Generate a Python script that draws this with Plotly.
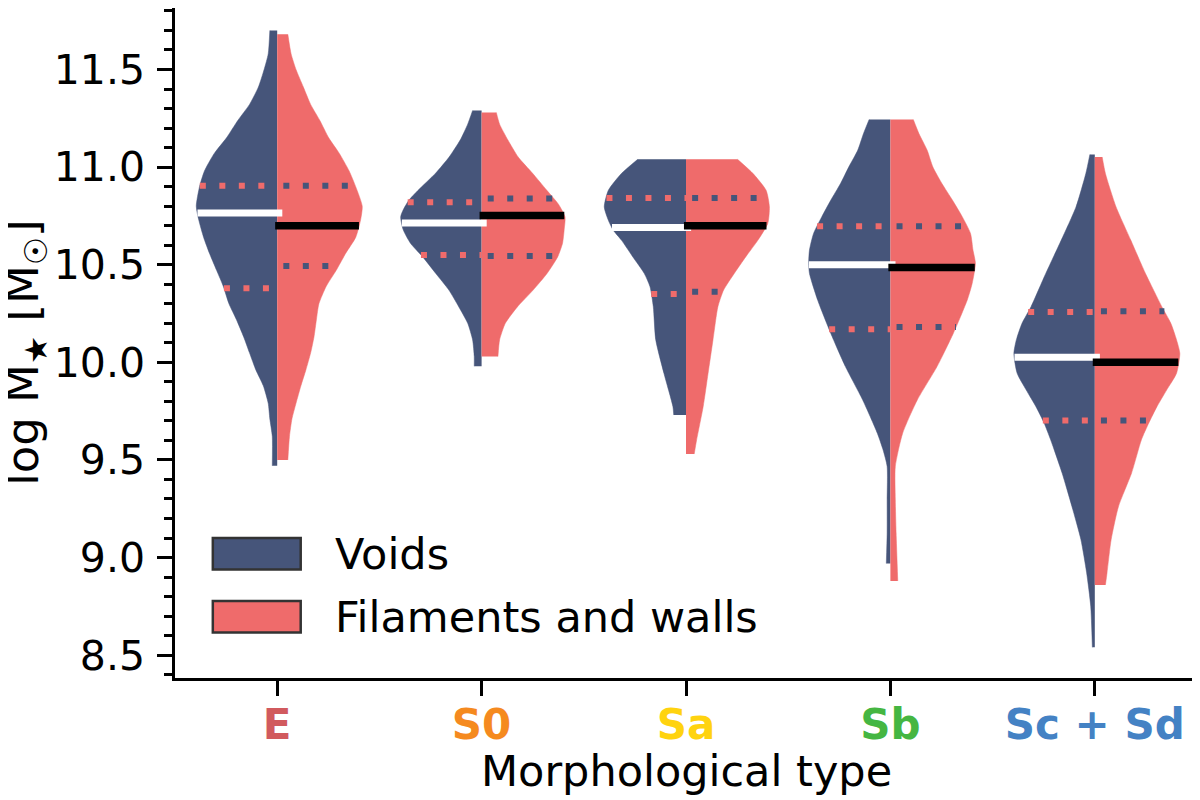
import numpy as np
import plotly.graph_objects as go

# morphological types, in x order
types = ["E", "S0", "Sa", "Sb", "Sc + Sd"]
type_colors = ["#D15A5E", "#F58A1F", "#FFD30F", "#45B642", "#4482C4"]

# violin outlines: log M* levels and relative density width
E_voids_y = [11.70, 11.58, 11.50, 11.41, 11.32, 11.24, 11.15, 11.07, 10.98, 10.90, 10.80, 10.73, 10.64,
             10.56, 10.47, 10.39, 10.30, 10.22, 10.13, 10.05, 9.96, 9.88, 9.79, 9.71, 9.62, 9.47]
E_voids_w = [0.09, 0.11, 0.16, 0.23, 0.34, 0.48, 0.62, 0.77, 0.89, 0.95, 0.99, 0.96, 0.90,
             0.83, 0.74, 0.66, 0.59, 0.50, 0.41, 0.34, 0.26, 0.17, 0.11, 0.09, 0.06, 0.06]
E_fil_y = [11.68, 11.58, 11.50, 11.41, 11.32, 11.24, 11.15, 11.07, 10.98, 10.90, 10.80, 10.73, 10.64,
           10.56, 10.47, 10.39, 10.30, 10.22, 10.13, 10.05, 9.96, 9.88, 9.79, 9.71, 9.62, 9.50]
E_fil_w = [0.13, 0.17, 0.23, 0.32, 0.41, 0.52, 0.63, 0.76, 0.88, 0.96, 1.04, 1.02, 0.96,
           0.84, 0.72, 0.60, 0.51, 0.48, 0.45, 0.41, 0.35, 0.29, 0.23, 0.18, 0.15, 0.13]

S0_voids_y = [11.29, 11.22, 11.14, 11.05, 10.97, 10.88, 10.83, 10.78, 10.745, 10.68, 10.61, 10.54,
              10.455, 10.37, 10.285, 10.20, 10.115, 10.03, 9.98]
S0_voids_w = [0.11, 0.17, 0.26, 0.40, 0.56, 0.78, 0.89, 0.96, 0.99, 0.96, 0.87, 0.72,
              0.56, 0.40, 0.28, 0.17, 0.11, 0.09, 0.09]
S0_fil_y = [11.28, 11.22, 11.14, 11.05, 10.97, 10.88, 10.81, 10.745, 10.68, 10.61, 10.54, 10.455,
            10.37, 10.285, 10.20, 10.115, 10.03]
S0_fil_w = [0.18, 0.22, 0.32, 0.45, 0.62, 0.80, 0.94, 1.02, 1.01, 0.99, 0.93, 0.80,
            0.63, 0.44, 0.29, 0.22, 0.20]

Sa_voids_y = [11.04, 10.967, 10.881, 10.796, 10.728, 10.677, 10.626, 10.54, 10.455, 10.387, 10.285,
              10.115, 9.944, 9.773, 9.73]
Sa_voids_w = [0.59, 0.79, 0.95, 1.00, 0.95, 0.89, 0.79, 0.65, 0.51, 0.44, 0.40,
              0.37, 0.27, 0.16, 0.15]
Sa_fil_y = [11.04, 10.967, 10.881, 10.796, 10.711, 10.626, 10.54, 10.455, 10.37, 10.285, 10.115,
            9.944, 9.773, 9.603, 9.53]
Sa_fil_w = [0.63, 0.82, 0.98, 1.02, 1.00, 0.88, 0.73, 0.59, 0.46, 0.39, 0.33,
            0.27, 0.21, 0.13, 0.10]

Sb_voids_y = [11.244, 11.171, 11.086, 11.0, 10.916, 10.83, 10.745, 10.66, 10.575, 10.507, 10.455,
              10.319, 10.149, 9.978, 9.808, 9.637, 9.552, 9.467, 9.296, 9.126, 8.97]
Sb_voids_w = [0.26, 0.33, 0.40, 0.51, 0.61, 0.73, 0.84, 0.94, 0.99, 1.00, 0.99,
              0.89, 0.73, 0.55, 0.34, 0.16, 0.09, 0.04, 0.04, 0.04, 0.05]
Sb_fil_y = [11.244, 11.171, 11.086, 11.0, 10.916, 10.83, 10.745, 10.66, 10.575, 10.507, 10.404,
            10.319, 10.149, 9.978, 9.808, 9.637, 9.467, 9.296, 9.126, 8.88]
Sb_fil_w = [0.28, 0.35, 0.45, 0.52, 0.63, 0.76, 0.88, 0.98, 1.01, 1.04, 1.00,
            0.94, 0.77, 0.57, 0.33, 0.15, 0.06, 0.06, 0.07, 0.09]

Sc_voids_y = [11.065, 10.967, 10.796, 10.626, 10.455, 10.285, 10.2, 10.115, 10.046, 9.944, 9.859,
              9.773, 9.689, 9.603, 9.433, 9.262, 9.092, 8.922, 8.751, 8.54]
Sc_voids_w = [0.06, 0.11, 0.23, 0.41, 0.60, 0.78, 0.89, 0.96, 0.99, 0.95, 0.84,
              0.72, 0.62, 0.54, 0.40, 0.28, 0.17, 0.10, 0.05, 0.03]
Sc_fil_y = [11.052, 10.967, 10.796, 10.626, 10.455, 10.285, 10.2, 10.115, 10.046, 9.944, 9.859,
            9.773, 9.689, 9.603, 9.433, 9.262, 9.092, 8.922, 8.86]
Sc_fil_w = [0.09, 0.13, 0.26, 0.44, 0.62, 0.82, 0.93, 1.00, 1.04, 1.00, 0.88,
            0.76, 0.66, 0.57, 0.45, 0.29, 0.20, 0.15, 0.13]

voids_profiles = [(E_voids_y, E_voids_w), (S0_voids_y, S0_voids_w), (Sa_voids_y, Sa_voids_w),
                  (Sb_voids_y, Sb_voids_w), (Sc_voids_y, Sc_voids_w)]
fil_profiles = [(E_fil_y, E_fil_w), (S0_fil_y, S0_fil_w), (Sa_fil_y, Sa_fil_w),
                (Sb_fil_y, Sb_fil_w), (Sc_fil_y, Sc_fil_w)]

# medians and quartiles
voids_median = [10.765, 10.714, 10.69, 10.50, 10.026]
fil_median = [10.70, 10.752, 10.70, 10.486, 10.0]
voids_q1 = [10.379, 10.55, 10.35, 10.169, 9.702]
voids_q3 = [10.905, 10.82, 10.842, 10.697, 10.258]
fil_q1 = [10.493, 10.545, 10.361, 10.181, 9.702]
fil_q3 = [10.905, 10.839, 10.842, 10.697, 10.261]

VOID_COL = "#46557A"
FIL_COL = "#EF6B6B"
HALF = 0.4
FONT = "DejaVu Sans"


def width_at(prof, y):
    ys, ws = prof
    return HALF * np.interp(y, ys[::-1], ws[::-1])


fig = go.Figure()

for i, (vp, fp) in enumerate(zip(voids_profiles, fil_profiles)):
    for prof, side, col in [(vp, -1, VOID_COL), (fp, 1, FIL_COL)]:
        ys = np.array(prof[0])
        ws = np.array(prof[1])
        # centre line, then the outer edge filled against it
        fig.add_trace(go.Scatter(x=[i, i], y=[ys[0], ys[-1]], mode="lines",
                                 line=dict(width=0, color=col), showlegend=False, hoverinfo="skip"))
        fig.add_trace(go.Scatter(x=i + side * HALF * ws, y=ys, mode="lines",
                                 line=dict(width=0.5, color=col, shape="spline", smoothing=0.6),
                                 fill="tonextx", fillcolor=col, showlegend=False, hoverinfo="skip"))

for i in range(len(types)):
    vp, fp = voids_profiles[i], fil_profiles[i]
    # quartiles, dotted in the other group's colour
    for q in [voids_q1[i], voids_q3[i]]:
        fig.add_trace(go.Scatter(x=[i - width_at(vp, q), i], y=[q, q], mode="lines",
                                 line=dict(color=FIL_COL, width=6, dash="6px,13.5px"),
                                 showlegend=False, hoverinfo="skip"))
    for q in [fil_q1[i], fil_q3[i]]:
        fig.add_trace(go.Scatter(x=[i + 0.03, i + width_at(fp, q)], y=[q, q], mode="lines",
                                 line=dict(color=VOID_COL, width=6, dash="6px,13.5px"),
                                 showlegend=False, hoverinfo="skip"))
    # medians
    m = voids_median[i]
    fig.add_trace(go.Scatter(x=[i - width_at(vp, m), i + 0.025], y=[m, m], mode="lines",
                             line=dict(color="white", width=7), showlegend=False, hoverinfo="skip"))
    m = fil_median[i]
    fig.add_trace(go.Scatter(x=[i - 0.01, i + width_at(fp, m)], y=[m, m], mode="lines",
                             line=dict(color="black", width=7.5), showlegend=False, hoverinfo="skip"))

# legend drawn by hand so the patches get their size
legend_items = [("Voids", VOID_COL, 0.209), ("Filaments and walls", FIL_COL, 0.115)]
for name, col, ytop in legend_items:
    fig.add_shape(type="rect", xref="paper", yref="paper", x0=0.037, x1=0.123, y0=ytop - 0.047, y1=ytop,
                  fillcolor=col, line=dict(color="#333333", width=2.5))
    fig.add_annotation(xref="paper", yref="paper", x=0.1546, y=ytop - 0.024, text=name, showarrow=False,
                       xanchor="left", yanchor="middle", font=dict(family=FONT, size=43, color="black"))

# axis titles
fig.add_annotation(xref="paper", yref="paper", x=0.5, y=-0.139, text="Morphological type",
                   showarrow=False, xanchor="center", yanchor="middle",
                   font=dict(family=FONT, size=43, color="black"))
fig.add_annotation(xref="paper", yref="paper", x=-0.147, y=0.485, text="log M<sub>★</sub> [M<sub>☉</sub>]",
                   textangle=-90, showarrow=False, xanchor="center", yanchor="middle",
                   font=dict(family=FONT, size=45, color="black"))

ticktext = ["<b><span style='color:%s'>%s</span></b>" % (c, t) for t, c in zip(types, type_colors)]

# the page adds an 8px body margin, so the figure is drawn 8px smaller and shifted
fig.update_layout(
    width=1192, height=792,
    margin=dict(l=167, r=3, t=0, b=122, autoexpand=False),
    plot_bgcolor="white", paper_bgcolor="white",
    font=dict(family=FONT, size=41, color="black"),
    showlegend=False,
)
fig.update_xaxes(
    range=[-0.5, 4.5], tickvals=list(range(len(types))), ticktext=ticktext, automargin=False,
    showline=True, mirror=True, linecolor="black", linewidth=2.5,
    ticks="outside", ticklen=15, tickwidth=2.5, tickcolor="black",
    showgrid=False, zeroline=False, tickfont=dict(size=42), ticklabelstandoff=-7,
)
fig.update_yaxes(
    range=[8.383, 11.815], tick0=8.5, dtick=0.5, tickformat=".1f", automargin=False,
    showline=True, mirror=True, linecolor="black", linewidth=2.5,
    ticks="outside", ticklen=15, tickwidth=2.5, tickcolor="black",
    minor=dict(dtick=0.1, tick0=8.5, ticks="outside", ticklen=8, tickwidth=2.5, tickcolor="black"),
    showgrid=False, zeroline=False, ticklabelstandoff=4,
)

fig.write_html("out.html")
